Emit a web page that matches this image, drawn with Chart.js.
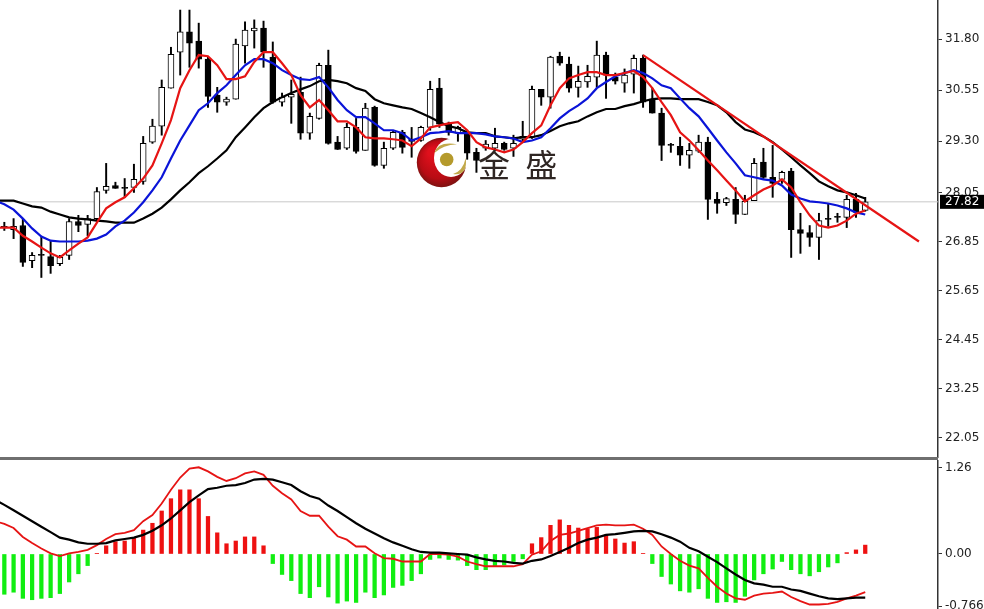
<!DOCTYPE html>
<html>
<head>
<meta charset="utf-8">
<title>金盛</title>
<script src="https://cdn.jsdelivr.net/npm/chart.js@4/dist/chart.umd.min.js"></script>
<style>
html, body { margin: 0; padding: 0; background: #fff; overflow: hidden; }
canvas { position: absolute; left: 0; }
#priceChart { top: 0; }
#macdChart { top: 460px; }
#divider { position: absolute; left: 0; top: 457px; width: 938px; height: 3px; background: #6f6f6f; }
#brand { position: absolute; left: 478px; top: 141px; font: 32px "Noto Sans CJK SC"; color: #2f2623; white-space: pre; word-spacing: 8px; line-height: 44px; }
</style>
</head>
<body>
<canvas id="priceChart" width="984" height="458"></canvas>
<div id="divider"></div>
<canvas id="macdChart" width="984" height="149"></canvas>
<div id="brand">金 盛</div>
<script>
const openPrice = [27.22,27.14,27.24,26.38,26.51,26.48,26.31,26.51,27.34,27.27,27.41,28.10,28.22,28.15,28.17,28.32,29.28,29.67,30.60,31.48,
  31.98,31.75,31.31,30.43,30.26,30.33,31.63,32.00,32.07,31.36,30.26,30.38,30.50,29.50,29.86,31.16,29.28,29.13,29.64,29.08,
  30.13,28.71,29.13,29.52,29.35,29.32,29.64,30.60,29.72,29.50,29.52,29.03,29.13,29.13,29.25,29.13,29.35,29.40,30.57,30.38,
  31.38,31.19,30.62,30.75,30.87,31.41,30.87,30.72,30.94,31.33,30.33,29.99,29.20,29.18,28.96,29.06,29.28,27.88,27.80,27.88,
  27.51,27.85,28.79,28.42,28.37,28.57,27.14,27.07,26.95,27.39,27.44,27.44,27.88,27.61];
const highPrice = [27.32,27.41,27.41,26.58,26.96,26.87,26.51,27.41,27.49,27.49,28.17,28.76,28.30,28.39,28.74,29.42,29.84,30.80,31.60,32.51,
  32.51,32.19,31.36,30.62,30.38,31.80,32.22,32.27,32.24,31.73,30.48,30.80,30.87,29.99,31.21,31.53,29.42,29.74,29.86,30.23,
  30.16,29.28,29.55,29.57,29.64,29.67,30.77,30.84,29.77,29.67,29.57,29.13,29.32,29.62,29.28,29.45,29.79,30.65,30.57,31.38,
  31.48,31.36,31.14,31.16,31.75,31.48,30.97,31.07,31.41,31.41,30.60,30.11,29.25,29.40,29.25,29.45,29.40,28.05,27.93,28.17,
  27.98,28.88,29.13,29.20,28.57,28.64,27.54,27.24,27.54,27.78,27.54,27.98,28.03,27.93];
const lowPrice = [27.12,26.92,26.24,26.21,25.97,26.07,26.26,26.41,27.09,26.99,27.34,28.03,28.15,27.93,28.05,28.25,29.25,29.45,30.60,30.92,
  31.11,31.09,30.13,30.01,30.18,30.33,31.21,31.58,31.11,30.23,30.16,29.74,29.35,29.35,29.84,29.23,29.10,29.10,29.01,29.08,
  28.69,28.64,29.10,29.01,28.91,29.30,29.57,29.64,29.45,29.30,28.86,28.54,29.08,29.08,29.08,28.93,29.28,29.37,30.18,30.11,
  31.16,30.50,30.38,30.62,30.62,30.35,30.70,30.50,30.48,30.13,29.99,28.83,29.03,28.71,28.64,29.03,27.39,27.54,27.73,27.29,
  27.51,27.85,28.39,27.93,28.27,26.46,26.56,26.73,26.41,27.22,27.32,27.19,27.44,27.59];
const closePrice = [27.19,27.22,26.34,26.51,26.51,26.26,26.46,27.34,27.24,27.41,28.07,28.20,28.15,28.15,28.37,29.25,29.67,30.62,31.43,31.98,
  31.70,31.31,30.40,30.26,30.33,31.68,32.02,32.07,31.48,30.26,30.38,30.45,29.50,29.91,31.16,29.25,29.10,29.64,29.05,30.11,
  28.71,29.13,29.52,29.15,29.30,29.64,30.57,29.72,29.52,29.64,29.01,28.83,29.23,29.25,29.10,29.25,29.42,30.57,30.38,31.36,
  31.21,30.60,30.77,30.89,31.41,30.92,30.77,30.92,31.33,30.26,29.99,29.20,29.20,28.96,29.08,29.28,27.88,27.78,27.90,27.51,
  27.83,28.76,28.42,28.27,28.54,27.14,27.05,26.95,27.36,27.39,27.44,27.88,27.56,27.82];

// the first value of each line belongs to the bar just left of the picture
const fastMa = [27.19,27.19,27.19,26.99,26.85,26.70,26.56,26.46,26.63,26.80,26.95,27.31,27.66,27.81,27.93,28.15,28.39,28.71,29.25,29.82,30.60,
  31.04,31.41,31.38,31.16,30.82,30.82,30.89,31.24,31.48,31.48,31.21,30.92,30.43,30.13,30.31,30.06,29.79,29.79,29.64,29.40,
  29.37,29.37,29.35,29.32,29.18,29.37,29.64,29.69,29.74,29.77,29.57,29.28,29.15,29.10,29.03,29.10,29.28,29.50,29.69,30.18,
  30.60,30.84,30.92,30.99,30.99,30.92,30.92,30.97,31.02,30.87,30.60,30.26,29.94,29.52,29.32,29.08,28.83,28.59,28.34,28.10,
  27.83,27.98,28.12,28.22,28.37,28.17,27.81,27.49,27.24,27.19,27.24,27.36,27.53,27.61];
const midMa = [27.85,27.76,27.63,27.41,27.17,26.97,26.87,26.85,26.85,26.85,26.87,26.92,27.02,27.22,27.36,27.56,27.81,28.10,28.42,28.88,29.32,
  29.69,30.06,30.23,30.48,30.67,30.92,31.16,31.31,31.31,31.21,31.04,30.92,30.82,30.80,30.87,30.62,30.31,30.06,29.89,29.89,
  29.74,29.57,29.57,29.50,29.32,29.40,29.50,29.52,29.55,29.50,29.50,29.50,29.47,29.42,29.40,29.37,29.28,29.32,29.40,29.62,
  29.86,30.04,30.18,30.35,30.60,30.75,30.89,30.97,31.04,30.97,30.84,30.67,30.60,30.35,30.11,29.91,29.62,29.32,29.03,28.76,
  28.47,28.42,28.37,28.34,28.22,28.00,27.90,27.83,27.81,27.78,27.73,27.66,27.56,27.51];
const slowMa = [27.85,27.85,27.85,27.78,27.71,27.68,27.58,27.51,27.44,27.41,27.39,27.36,27.34,27.31,27.31,27.31,27.41,27.53,27.68,27.88,28.10,
  28.30,28.52,28.69,28.88,29.08,29.40,29.64,29.89,30.11,30.26,30.38,30.48,30.57,30.65,30.77,30.80,30.77,30.72,30.60,30.53,
  30.33,30.23,30.18,30.13,30.09,29.99,29.89,29.77,29.67,29.62,29.52,29.50,29.50,29.42,29.40,29.37,29.40,29.40,29.45,29.55,
  29.67,29.74,29.79,29.91,30.01,30.09,30.09,30.16,30.21,30.28,30.33,30.35,30.35,30.33,30.33,30.33,30.26,30.18,30.01,29.77,
  29.59,29.52,29.42,29.28,29.10,28.91,28.71,28.52,28.32,28.20,28.10,28.05,27.98,27.90];

const macdHist = [-0.59,-0.56,-0.65,-0.67,-0.65,-0.64,-0.58,-0.41,-0.29,-0.17,0.01,0.12,0.18,0.19,0.23,0.35,0.45,0.63,0.81,0.94,
  0.94,0.81,0.55,0.31,0.15,0.19,0.25,0.25,0.12,-0.14,-0.30,-0.39,-0.58,-0.64,-0.48,-0.63,-0.72,-0.69,-0.71,-0.56,
  -0.64,-0.60,-0.49,-0.46,-0.39,-0.29,-0.08,-0.06,-0.08,-0.09,-0.17,-0.23,-0.23,-0.17,-0.16,-0.11,-0.07,0.15,0.24,0.42,
  0.50,0.42,0.38,0.37,0.39,0.28,0.22,0.16,0.18,0.01,-0.14,-0.33,-0.44,-0.54,-0.56,-0.51,-0.65,-0.71,-0.70,-0.71,
  -0.62,-0.38,-0.29,-0.22,-0.11,-0.23,-0.29,-0.32,-0.26,-0.19,-0.13,0.02,0.06,0.13];
const macdBlack = [0.79,0.72,0.64,0.56,0.48,0.40,0.32,0.24,0.21,0.17,0.15,0.15,0.16,0.20,0.22,0.24,0.28,0.34,0.42,0.52,0.64,
  0.76,0.86,0.95,0.97,1.00,1.01,1.04,1.09,1.10,1.09,1.05,1.01,0.92,0.85,0.81,0.71,0.63,0.54,0.45,0.37,
  0.30,0.23,0.17,0.12,0.07,0.03,0.02,0.02,0.01,0.00,-0.01,-0.05,-0.08,-0.10,-0.11,-0.13,-0.14,-0.10,-0.08,-0.03,
  0.03,0.09,0.16,0.21,0.24,0.28,0.29,0.31,0.33,0.34,0.33,0.29,0.24,0.18,0.09,0.04,-0.04,-0.12,-0.21,-0.30,
  -0.38,-0.43,-0.45,-0.48,-0.48,-0.52,-0.54,-0.58,-0.62,-0.65,-0.66,-0.65,-0.64,-0.64];
const macdRed = [0.48,0.44,0.38,0.25,0.16,0.08,0.01,-0.03,0.01,0.03,0.06,0.13,0.22,0.29,0.31,0.35,0.48,0.57,0.74,0.94,1.12,
  1.25,1.27,1.21,1.13,1.07,1.11,1.18,1.21,1.16,1.00,0.89,0.80,0.63,0.56,0.56,0.40,0.26,0.21,0.11,0.11,
  0.01,-0.06,-0.07,-0.11,-0.11,-0.11,0.00,0.00,-0.01,-0.04,-0.11,-0.15,-0.18,-0.18,-0.18,-0.18,-0.15,-0.01,0.04,0.19,
  0.28,0.30,0.34,0.38,0.42,0.43,0.42,0.42,0.43,0.37,0.28,0.11,0.00,-0.10,-0.17,-0.21,-0.35,-0.48,-0.58,-0.65,
  -0.67,-0.61,-0.58,-0.57,-0.55,-0.63,-0.69,-0.74,-0.74,-0.73,-0.70,-0.65,-0.61,-0.56];

const trendX = [69, 98.8];
const trendY = [31.41, 26.85];
const lastPrice = 27.82;
const priceTicks = [22.05,23.25,24.45,25.65,26.85,28.05,29.30,30.55,31.80];
const macdTicks = [-0.766,0,1.26];
const macdTickLabels = ['-0.766','0.00','1.26'];

const xMin = -0.468, xMax = 100.86;
const fontName = '"DejaVu Sans"';

function toPoints(values) {
  return values.map((v, i) => ({ x: i, y: v }));
}

// lines carry one extra value in front, so they run off the left edge
function linePoints(values) {
  return values.map((v, i) => ({ x: i - 1, y: v }));
}

function lineSet(points, color, width, order) {
  return { type: 'line', data: points, borderColor: color, borderWidth: width, pointRadius: 0, tension: 0, order: order };
}

function rightAxis(min, max, ticks, labelFn) {
  return {
    position: 'right',
    min: min,
    max: max,
    border: { color: '#333', width: 1.5 },
    grid: { drawOnChartArea: false, drawTicks: true, tickLength: 4, color: '#333' },
    ticks: { font: { family: fontName, size: 12 }, color: '#222', padding: 3, autoSkip: false, maxRotation: 0, callback: labelFn },
    afterBuildTicks: s => { s.ticks = ticks.map(v => ({ value: v })); },
    afterFit: s => { s.width = 46; s.paddingTop = 0; s.paddingBottom = 0; }
  };
}

const hiddenX = { type: 'linear', min: xMin, max: xMax, offset: false, display: false };

// round red logo behind the candles
const logoPlugin = {
  id: 'logo',
  beforeDatasetsDraw(chart) {
    const c = chart.ctx;
    c.save();
    const g = c.createRadialGradient(432, 152, 4, 441, 163, 25);
    g.addColorStop(0, '#e0101c');
    g.addColorStop(0.7, '#b80c14');
    g.addColorStop(1, '#7a1210');
    c.fillStyle = g;
    c.beginPath(); c.arc(441.5, 162.5, 24.7, 0, Math.PI * 2); c.fill();
    c.fillStyle = '#fff';
    c.beginPath(); c.ellipse(451, 158, 17, 19, 0, 0, Math.PI * 2); c.fill();
    c.fillStyle = '#b59a2c';
    c.beginPath(); c.arc(446.7, 159.5, 6.8, 0, Math.PI * 2); c.fill();
    c.fillStyle = '#c2a94a';
    c.beginPath(); c.moveTo(434.3, 153); c.quadraticCurveTo(438, 141, 457, 144.3); c.quadraticCurveTo(443, 145, 434.3, 153); c.fill();
    c.beginPath(); c.moveTo(453, 174); c.quadraticCurveTo(463, 171, 465.7, 158); c.quadraticCurveTo(468, 176, 453, 174); c.fill();
    c.restore();
  }
};

// black box with the last price on the axis
const lastPricePlugin = {
  id: 'lastPrice',
  afterDraw(chart) {
    const c = chart.ctx;
    const y = chart.scales.y.getPixelForValue(lastPrice);
    c.save();
    c.fillStyle = '#000';
    c.fillRect(940, y - 7, 44, 14);
    c.fillStyle = '#fff';
    c.font = '12px ' + fontName;
    c.textBaseline = 'middle';
    c.fillText(lastPrice.toFixed(2), 945, y);
    c.restore();
  }
};

new Chart(document.getElementById('priceChart'), {
  type: 'bar',
  data: {
    datasets: [
      lineSet(linePoints(fastMa), '#e61414', 2.2, 1),
      lineSet(linePoints(midMa), '#0a14d8', 2.2, 2),
      lineSet(linePoints(slowMa), '#000', 2.2, 3),
      lineSet(trendX.map((x, i) => ({ x: x, y: trendY[i] })), '#e61414', 2.2, 0),
      {
        data: openPrice.map((o, i) => ({ x: i, y: [o, closePrice[i]] })),
        backgroundColor: openPrice.map((o, i) => closePrice[i] > o ? '#fff' : '#000'),
        borderColor: '#000', borderWidth: 1, borderSkipped: false,
        barThickness: 6, minBarLength: 1, grouped: false, order: 5
      },
      {
        data: highPrice.map((h, i) => ({ x: i, y: [lowPrice[i], h] })),
        backgroundColor: '#000',
        barThickness: 1.3, grouped: false, order: 6
      },
      lineSet([{ x: xMin, y: lastPrice }, { x: xMax, y: lastPrice }], '#c8c8c8', 1, 7)
    ]
  },
  options: {
    responsive: false,
    animation: false,
    layout: { padding: 0 },
    plugins: { legend: { display: false }, tooltip: { enabled: false } },
    scales: {
      x: hiddenX,
      y: rightAxis(21.555, 32.756, priceTicks, v => v.toFixed(2))
    }
  },
  plugins: [logoPlugin, lastPricePlugin]
});

new Chart(document.getElementById('macdChart'), {
  type: 'bar',
  data: {
    datasets: [
      lineSet(linePoints(macdRed), '#e61414', 1.8, 1),
      lineSet(linePoints(macdBlack), '#000', 2.2, 0),
      {
        data: toPoints(macdHist),
        backgroundColor: macdHist.map(v => v >= 0 ? '#ee1111' : '#11ee11'),
        barThickness: 3.6, grouped: false, order: 3
      }
    ]
  },
  options: {
    responsive: false,
    animation: false,
    layout: { padding: 0 },
    plugins: { legend: { display: false }, tooltip: { enabled: false } },
    scales: {
      x: hiddenX,
      y: rightAxis(-0.806, 1.377, macdTicks, v => macdTickLabels[macdTicks.indexOf(v)])
    }
  }
});
</script>
</body>
</html>
